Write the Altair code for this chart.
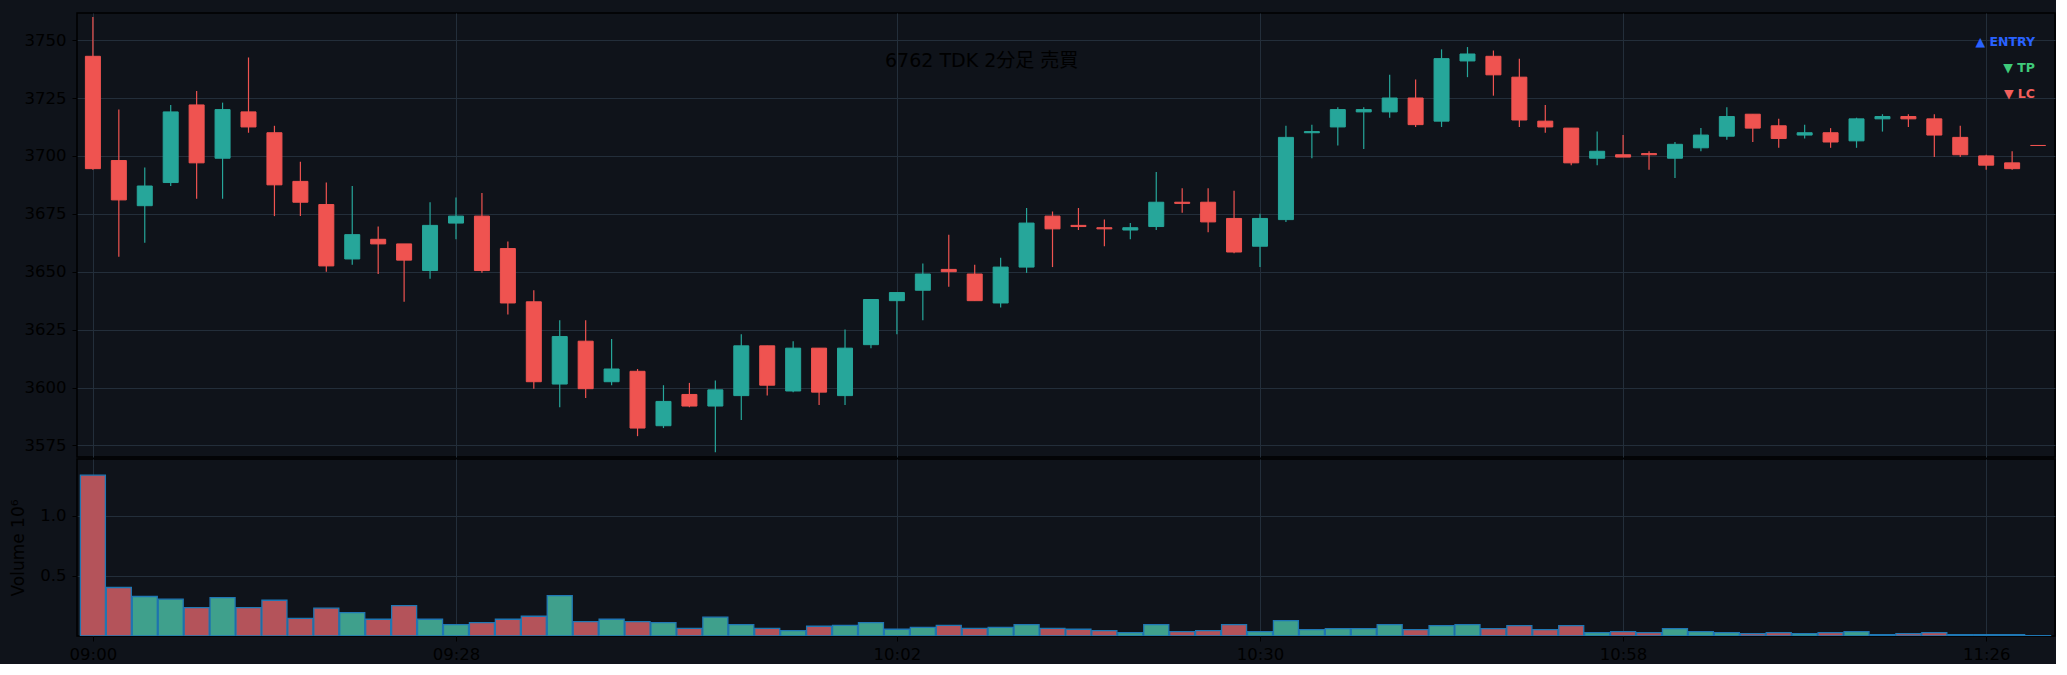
import altair as alt
import pandas as pd

TITLE = "6762 TDK 2分足 売買"

opens = [3743, 3698, 3678.5, 3688.5, 3722, 3699, 3719, 3710, 3689, 3679,
         3655.5, 3664, 3662, 3650.5, 3671, 3674, 3660, 3637, 3601.5, 3620,
         3602.5, 3607, 3583.5, 3597, 3592, 3596.5, 3618, 3598.5, 3617, 3596.5,
         3618.5, 3637.5, 3642, 3651, 3649, 3636.5, 3652, 3674, 3670, 3669,
         3668, 3669.5, 3680, 3680, 3673, 3661, 3672.5, 3710, 3712.5, 3719,
         3719, 3725, 3715, 3741, 3743, 3734, 3715, 3712, 3699, 3700.5,
         3701, 3699, 3703.5, 3708.5, 3718, 3713, 3709, 3710, 3706.5, 3716,
         3717, 3716, 3708, 3700, 3697, 3704.5]
highs = [3760, 3720, 3695, 3722, 3728, 3723, 3742.5, 3713, 3697.5, 3688.5,
         3687, 3669.5, 3662, 3680, 3682, 3684, 3663, 3642, 3629, 3629,
         3621, 3608, 3601, 3602, 3603, 3623, 3618, 3620, 3617, 3625,
         3638, 3641, 3653.5, 3666, 3653, 3656, 3677.5, 3676, 3677.5, 3672.5,
         3671, 3693, 3686, 3686, 3685, 3675, 3713, 3713.5, 3721, 3721,
         3735, 3733, 3746, 3747, 3745.5, 3742, 3722, 3712, 3710.5, 3709,
         3702, 3706, 3712, 3721, 3718, 3716, 3713.5, 3712, 3716.5, 3718,
         3718, 3718, 3713, 3700.5, 3702, 3704.5]
lows = [3694, 3656.5, 3662.5, 3687, 3681.5, 3681.5, 3710, 3674, 3674, 3650,
        3653, 3649, 3637, 3647, 3664, 3649.5, 3631.5, 3599.5, 3591.5, 3595.5,
        3601, 3579, 3582.5, 3591.5, 3572, 3586, 3596.5, 3598, 3592.5, 3592.5,
        3617, 3623, 3629, 3643.5, 3637.5, 3634.5, 3649.5, 3652, 3668, 3661,
        3664, 3668, 3675.5, 3667, 3658, 3652, 3671.5, 3699, 3704.5, 3703,
        3716.5, 3712.5, 3712.5, 3734, 3726, 3712.5, 3710, 3696, 3696, 3699.5,
        3694, 3690.5, 3702, 3707, 3706, 3703.5, 3707.5, 3703.5, 3703.5, 3710.5,
        3712.5, 3699.5, 3699.5, 3694, 3694, 3704.5]
closes = [3694.5, 3681, 3687, 3719, 3697, 3720, 3712.5, 3687.5, 3680, 3652.5,
          3666, 3662, 3655, 3670, 3674, 3650.5, 3636.5, 3602.5, 3622, 3599.5,
          3608, 3582.5, 3594, 3592, 3599, 3618, 3601, 3617, 3598, 3617,
          3638, 3641, 3649, 3650, 3637.5, 3652, 3671, 3668.5, 3669.5, 3668.5,
          3669, 3680, 3679.5, 3671.5, 3658.5, 3673, 3708, 3710.5, 3720, 3720,
          3725, 3713.5, 3742, 3744, 3735, 3715.5, 3712.5, 3697, 3702, 3699.5,
          3700.5, 3705, 3709, 3717, 3712, 3707.5, 3710, 3706, 3716, 3717,
          3716, 3709, 3700.5, 3696, 3694.5, 3704.5]
volumes = [1336000, 403000, 328000, 306000, 236000, 319000, 236000, 297000, 147000, 231000,
           194000, 139000, 253000, 139000, 94000, 111000, 139000, 164000, 336000, 119000,
           139000, 119000, 111000, 64000, 156000, 94000, 64000, 44000, 81000, 89000,
           111000, 56000, 72000, 89000, 64000, 72000, 94000, 64000, 56000, 44000,
           28000, 94000, 36000, 44000, 94000, 36000, 128000, 53000, 61000, 61000,
           94000, 53000, 86000, 94000, 61000, 86000, 53000, 86000, 28000, 36000,
           28000, 61000, 36000, 28000, 19000, 28000, 19000, 28000, 36000, 11000,
           19000, 28000, 11000, 11000, 11000, 3000]

tick_positions = [0, 14, 31, 45, 59, 73]
tick_labels = ["09:00", "09:28", "10:02", "10:30", "10:58", "11:26"]
price_ticks = [3575, 3600, 3625, 3650, 3675, 3700, 3725, 3750]
volume_ticks = [0.5, 1.0]

legend_labels = ["▲ ENTRY", "▼ TP", "▼ LC"]
legend_colors = ["#2962ff", "#3fca7a", "#f25f5c"]

UP, DOWN = "#26a69a", "#ef5350"
VUP, VDOWN = "#3fa08c", "#b4535a"
BG = "#0f131a"
GRID = "#232e3a"
FONT = "DejaVu Sans, Noto Sans CJK JP"

df = pd.DataFrame({
    "i": list(range(len(opens))),
    "open": opens, "high": highs, "low": lows, "close": closes,
    "vol": [v / 1e6 for v in volumes],
})
df["dir"] = ["up" if c > o else "down" for o, c in zip(opens, closes)]
df["vdir"] = ["vup" if c > o else "vdown" for o, c in zip(opens, closes)]

W = 1978
H1, H2 = 444, 177
xdom = [-0.42, 75.46]

label_expr = f"{tick_labels}[indexof({tick_positions}, datum.value)]"

x_top = alt.X("i:Q", scale=alt.Scale(domain=xdom, nice=False, zero=False),
              axis=alt.Axis(values=tick_positions, labels=False, ticks=False,
                            domain=False, grid=True, title=None))
x_bot = alt.X("i:Q", scale=alt.Scale(domain=xdom, nice=False, zero=False),
              axis=alt.Axis(values=tick_positions, labelExpr=label_expr,
                            domain=False, grid=True, title=None,
                            tickSize=5, labelPadding=5))

ccol = alt.Color("dir:N", scale=alt.Scale(domain=["up", "down"], range=[UP, DOWN]), legend=None)
vcol = alt.Color("vdir:N", scale=alt.Scale(domain=["vup", "vdown"], range=[VUP, VDOWN]), legend=None)

yprice = alt.Scale(domain=[3570, 3761.7], nice=False, zero=False)
base = alt.Chart(df)

wicks = base.mark_rule(strokeWidth=1.2, clip=True).encode(
    x=x_top,
    y=alt.Y("low:Q", scale=yprice,
            axis=alt.Axis(values=price_ticks, format="d", domain=False, grid=True,
                          title=None, tickSize=5, labelPadding=6)),
    y2="high:Q",
    color=ccol,
)
bodies = base.mark_bar(width=15, strokeWidth=1, clip=True).encode(
    x=x_top,
    y=alt.Y("open:Q", scale=yprice),
    y2="close:Q",
    color=ccol,
    stroke=ccol,
)
title_mark = alt.Chart(pd.DataFrame({"t": [TITLE]})).mark_text(
    align="left", baseline="middle", fontSize=19, color="#000", font=FONT
).encode(text="t:N", x=alt.value(808), y=alt.value(48))

leg_layers = []
for k, (lab, col) in enumerate(zip(legend_labels, legend_colors)):
    leg_layers.append(
        alt.Chart(pd.DataFrame({"t": [lab]})).mark_text(
            align="right", baseline="middle", fontSize=12.5, fontWeight="bold",
            color=col, font=FONT
        ).encode(text="t:N", x=alt.value(1958), y=alt.value(28.5 + 26.3 * k))
    )

top = alt.layer(wicks, bodies, title_mark, *leg_layers).properties(width=W, height=H1)

vbars = base.mark_bar(width=25, stroke="#1f77b4", strokeWidth=1.3, clip=True).encode(
    x=x_bot,
    y=alt.Y("vol:Q", scale=alt.Scale(domain=[0, 1.47], nice=False),
            axis=alt.Axis(values=volume_ticks, format=".1f", domain=False, grid=True,
                          title="Volume    10⁶", titleX=-50, tickSize=5, labelPadding=6,
                          titleFontWeight="normal", titleFontSize=17)),
    color=vcol,
)
bottom = vbars.properties(width=W, height=H2)

chart = alt.vconcat(top, bottom, spacing=0).resolve_scale(color="independent").properties(
    background=BG,
    padding={"left": 8, "top": 12, "right": 0, "bottom": 0},
).configure_view(
    stroke="#000", strokeWidth=1.5, fill=BG
).configure_axis(
    labelColor="#000", tickColor="#000", titleColor="#000", gridColor=GRID,
    gridWidth=1, labelFont=FONT, titleFont=FONT, labelFontSize=16.5, titleFontSize=16.5,
)

chart.save("out.html", embed_options={"renderer": "svg", "actions": False})
